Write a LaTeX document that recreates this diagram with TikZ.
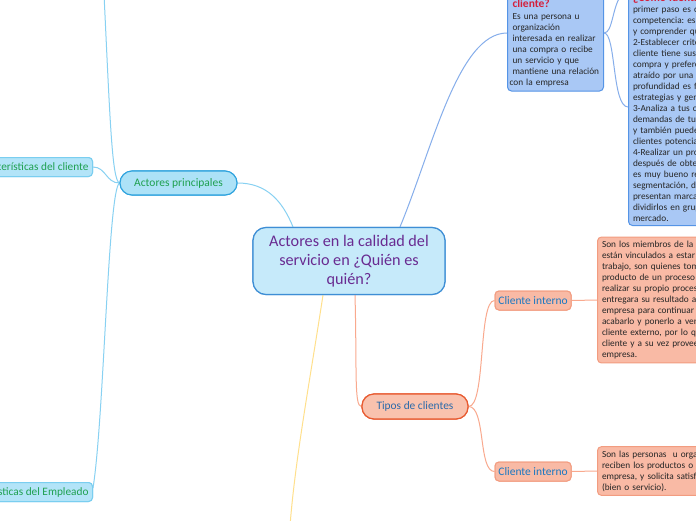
\documentclass[tikz,border=0pt]{standalone}
\usepackage{fontspec}
\setmainfont{Carlito}
\frenchspacing
\definecolor{cfill}{HTML}{C6EAFA}
\definecolor{cdraw}{HTML}{3E8ED5}
\definecolor{ctext}{HTML}{692B91}
\definecolor{afill}{HTML}{ADE2F7}
\definecolor{adraw}{HTML}{2FA3DE}
\definecolor{gtext}{HTML}{1FA050}
\definecolor{kfill}{HTML}{B3E4F8}
\definecolor{kdraw}{HTML}{7ACEF0}
\definecolor{qfill}{HTML}{A9C8F5}
\definecolor{qdraw}{HTML}{5594E6}
\definecolor{qred}{HTML}{D4203C}
\definecolor{tfill}{HTML}{F9C2AE}
\definecolor{tdraw}{HTML}{E85A30}
\definecolor{ttext}{HTML}{2A6AAA}
\definecolor{sfill}{HTML}{F9BAA5}
\definecolor{sdraw}{HTML}{F29C80}
\definecolor{itext}{HTML}{1A78C2}
\definecolor{bodytext}{HTML}{262626}
\definecolor{lblue}{HTML}{88D1F2}
\definecolor{lq}{HTML}{86AEEB}
\definecolor{lyel}{HTML}{FFE08C}
\definecolor{lsal}{HTML}{F9A98E}
\tikzset{
  central/.style={draw=cdraw, fill=cfill, line width=1.2pt, rounded corners=13pt,
    minimum width=192pt, minimum height=67pt, align=center, text=ctext,
    font=\fontsize{16.2}{19}\selectfont, inner sep=0pt},
  mainbox/.style={draw=adraw, fill=afill, line width=1.1pt, rounded corners=12pt,
    minimum width=117pt, minimum height=24pt, text=gtext,
    font=\fontsize{11.5}{13}\selectfont, inner sep=0pt},
  carbox/.style={draw=kdraw, fill=kfill, line width=1pt, rounded corners=4pt,
    minimum height=19pt, text=gtext, font=\fontsize{11.3}{13}\selectfont,
    inner xsep=4pt, inner ysep=0pt},
  qbox/.style={draw=qdraw, fill=qfill, line width=1pt, rounded corners=4pt,
    align=left, text=bodytext, font=\fontsize{9.3}{11}\selectfont\frenchspacing,
    inner xsep=2pt, inner ysep=4.5pt},
  tipbox/.style={draw=tdraw, fill=tfill, line width=1.2pt, rounded corners=12pt,
    minimum width=106pt, minimum height=25pt, text=ttext,
    font=\fontsize{11.4}{13}\selectfont, inner sep=0pt},
  intbox/.style={draw=sdraw, fill=sfill, line width=1pt, rounded corners=4pt,
    minimum width=76pt, minimum height=19pt, text=itext,
    font=\fontsize{11.5}{13}\selectfont, inner sep=0pt},
  salbox/.style={draw=sdraw, fill=sfill, line width=1pt, rounded corners=4pt,
    align=left, text=bodytext, font=\fontsize{9.3}{11}\selectfont\frenchspacing,
    inner xsep=4.5pt, inner ysep=4pt},
  conn/.style={line width=1pt},
}
\begin{document}
\begin{tikzpicture}[x=1pt,y=-1pt]
\useasboundingbox (0,0) rectangle (696,520);
\clip (0,0) rectangle (696,520);
\fill[white] (0,0) rectangle (696,520);

% off-screen ends
\coordinate (topend) at (104,-6);
\coordinate (yend) at (290,526);
\coordinate (rtop) at (622,-6);

\node[central] (c) at (349,261) {Actores en la calidad del\\servicio en ¿Quién es\\quién?};
\node[mainbox] (ap) at (178.5,183) {Actores principales};
\node[carbox, anchor=east] (cc) at (93,167) {Características del cliente};
\node[carbox, anchor=east] (ce) at (93,492) {Características del Empleado};
\node[tipbox] (tc) at (415,406.5) {Tipos de clientes};
\node[intbox] (i1) at (533,300.5) {Cliente interno};
\node[intbox] (i2) at (533,471.5) {Cliente interno};

\node[qbox, anchor=south west, text width=92pt] (q) at (507,91.5)
{\leftskip=3pt\relax{\color{qred}\bfseries\fontsize{11.5}{12}\selectfont ¿Quién es el\\cliente?}\\[0.5pt]
Es una persona u\\organización\\interesada en realizar\\una compra o recibe\\un servicio y que\\mantiene una relación\\con la empresa};

\node[qbox, anchor=south west, text width=180pt, inner xsep=4.5pt, inner ysep=4pt] (r) at (628,226)
{{\color{qred}\bfseries\fontsize{11.5}{12}\selectfont ¿Cómo identificar al cliente?}\\
primer paso es conocer a la\\competencia: es importante\\y comprender qué buscan\\2-Establecer criterios: cada\\cliente tiene sus hábitos de\\compra y preferencias, es\\atraído por una oferta, y su\\profundidad es fundamental\\estrategias y generar valor\\3-Analiza a tus clientes: las\\demandas de tus clientes\\y también puedes conocer\\clientes potenciales\\4-Realizar un proceso: y\\después de obtener datos\\es muy bueno realizar una\\segmentación, dado que\\presentan marcadas diferencias\\dividirlos en grupos de\\mercado.};

\node[salbox, anchor=west, text width=200pt] (s1) at (597,300)
{Son los miembros de la persona\\están vinculados a estar presentes\\trabajo, son quienes toman el\\producto de un proceso para\\realizar su propio proceso y\\entregara su resultado a otra\\empresa para continuar hasta\\acabarlo y ponerlo a venta al\\cliente externo, por lo que es\\cliente y a su vez proveedor de la\\empresa.};

\node[salbox, anchor=west, text width=200pt] (s2) at (597,471)
{Son las personas\ \ u organizaciones que\\reciben los productos o la\\empresa, y solicita satisfacción\\(bien o servicio).};

% edges
\draw[conn, lblue] (ap.east) .. controls (266,183) and (282,200) .. ([xshift=-56pt]c.north);
\draw[conn, lblue] (ap.west) .. controls (112,180) and (110,120) .. (topend);
\draw[conn, lblue] (ap.west) .. controls (106,183) and (106,167) .. (cc.east);
\draw[conn, lblue] (ap.west) .. controls (108,190) and (104,420) .. ([yshift=-6pt]ce.north east);
\draw[conn, lq] ([xshift=51pt]c.north) .. controls (432,150) and (458,33) .. ([yshift=58.5pt]q.south west);
\draw[conn, lq] ([yshift=58.5pt]q.south east) .. controls (613,33) and (612,6) .. (rtop);
\draw[conn, lq] ([yshift=58.5pt]q.south east) .. controls (616,33) and (612,107) .. ([yshift=119pt]r.south west);
\draw[conn, lsal] ([xshift=6pt]c.south) .. controls (357,370) and (354,406.5) .. (tc.west);
\draw[conn, lyel] ([xshift=-26pt]c.south) .. controls (310,380) and (295,460) .. (yend);
\draw[conn, lsal] (tc.east) .. controls (486,406.5) and (478,300.5) .. (i1.west);
\draw[conn, lsal] (tc.east) .. controls (486,406.5) and (478,471.5) .. (i2.west);
\draw[conn, lsal] (i1.east) -- (s1.west);
\draw[conn, lsal] (i2.east) -- (s2.west);

% redraw nodes above edges
\node[central] at (c) {Actores en la calidad del\\servicio en ¿Quién es\\quién?};
\node[mainbox] at (ap) {Actores principales};
\node[tipbox] at (tc) {Tipos de clientes};
\node[intbox] at (i1) {Cliente interno};
\node[intbox] at (i2) {Cliente interno};
\node[carbox, anchor=east] at (93,167) {Características del cliente};
\node[carbox, anchor=east] at (93,492) {Características del Empleado};
\end{tikzpicture}
\end{document}
